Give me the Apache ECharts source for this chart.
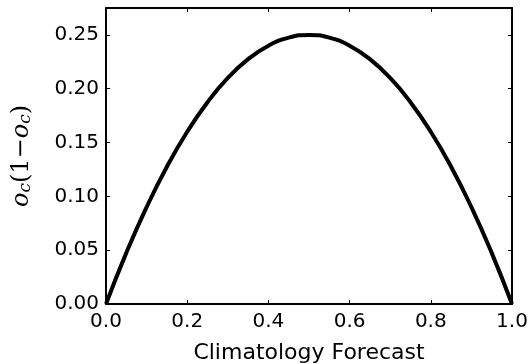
<!DOCTYPE html>
<html>
<head>
<meta charset="utf-8"/>
<style>
  html, body { margin:0; padding:0; background:#fff; }
  #main { width:531px; height:364px; }
</style>
</head>
<body>
<div id="main"></div>
<script src="https://cdn.jsdelivr.net/npm/echarts@6/dist/echarts.min.js"></script>
<script>
// climatology forecast values
var xs = [0.00, 0.05, 0.10, 0.15, 0.20, 0.25, 0.30, 0.35, 0.40, 0.45, 0.50,
          0.55, 0.60, 0.65, 0.70, 0.75, 0.80, 0.85, 0.90, 0.95, 1.00];
var ys = [0.000, 0.0475, 0.090, 0.1275, 0.160, 0.1875, 0.210, 0.2275, 0.240, 0.2475, 0.250,
          0.2475, 0.240, 0.2275, 0.210, 0.1875, 0.160, 0.1275, 0.090, 0.0475, 0.000];

var pts = xs.map(function (x, i) { return [x, ys[i]]; });
var font = 'DejaVu Sans';

var chart = echarts.init(document.getElementById('main'));
chart.setOption({
  animation: false,
  grid: { left: 106, right: 19, top: 8, bottom: 60, containLabel: false, outerBoundsMode: 'none' },
  xAxis: [{
    type: 'value', min: 0, max: 1, interval: 0.2,
    name: 'Climatology Forecast', nameLocation: 'middle', nameGap: 38,
    nameTextStyle: { fontFamily: font, fontSize: 22, color: '#000' },
    axisLine: { show: true, onZero: false, lineStyle: { color: '#000', width: 2 } },
    axisTick: { show: true, inside: true, length: 4, lineStyle: { color: '#000', width: 1 } },
    axisLabel: { margin: 8, fontFamily: font, fontSize: 20, color: '#000',
                 formatter: function (v) { return v.toFixed(1); } },
    splitLine: { show: false }
  }, {
    type: 'value', min: 0, max: 1, interval: 0.2, position: 'top',
    axisLine: { show: true, onZero: false, lineStyle: { color: '#000', width: 2 } },
    axisTick: { show: true, inside: true, length: 4, lineStyle: { color: '#000', width: 1 } },
    axisLabel: { show: false }, splitLine: { show: false }
  }],
  yAxis: [{
    type: 'value', min: 0, max: 0.275, interval: 0.05,
    name: '{o|o}{s|c}{n|(1−}{o|o}{s|c}{n|)}', nameLocation: 'middle', nameGap: 72, nameRotate: 90,
    nameTextStyle: {
      rich: {
        o: { fontFamily: 'DejaVu Serif', fontStyle: 'italic', fontSize: 24, color: '#000', verticalAlign: 'bottom', lineHeight: 28 },
        s: { fontFamily: 'DejaVu Serif', fontStyle: 'italic', fontSize: 17, color: '#000', verticalAlign: 'bottom', lineHeight: 21 },
        n: { fontFamily: 'DejaVu Serif', fontSize: 24, color: '#000', verticalAlign: 'bottom', lineHeight: 28 }
      }
    },
    axisLine: { show: true, onZero: false, lineStyle: { color: '#000', width: 2 } },
    axisTick: { show: true, inside: true, length: 4, lineStyle: { color: '#000', width: 1 } },
    axisLabel: { margin: 7, fontFamily: font, fontSize: 20, color: '#000', showMaxLabel: false,
                 formatter: function (v) { return v.toFixed(2); } },
    splitLine: { show: false }
  }, {
    type: 'value', min: 0, max: 0.275, interval: 0.05, position: 'right',
    axisLine: { show: true, onZero: false, lineStyle: { color: '#000', width: 2 } },
    axisTick: { show: true, inside: true, length: 4, lineStyle: { color: '#000', width: 1 } },
    axisLabel: { show: false }, splitLine: { show: false }
  }],
  series: [{
    type: 'line',
    data: pts,
    smooth: true,
    showSymbol: false,
    lineStyle: { color: '#000', width: 4 }
  }]
});
</script>
</body>
</html>
